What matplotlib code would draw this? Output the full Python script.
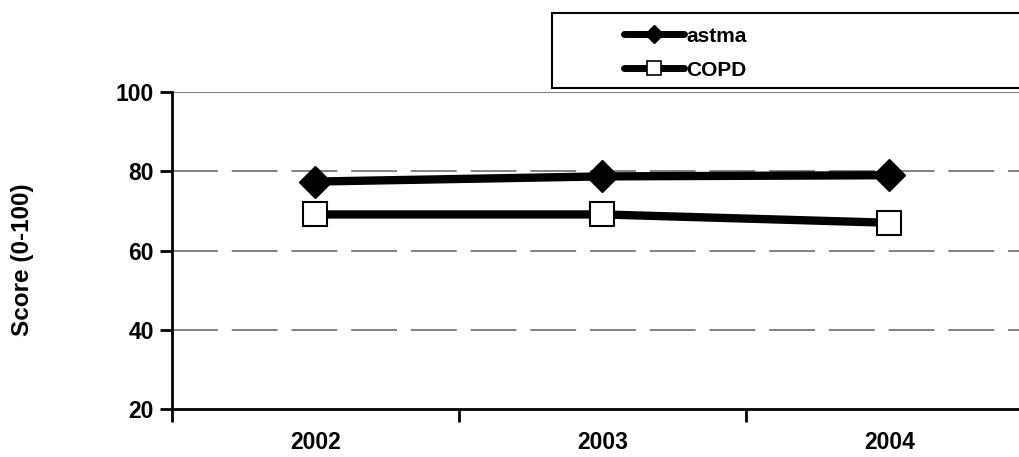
import matplotlib
matplotlib.use("Agg")
import matplotlib.pyplot as plt
from matplotlib.lines import Line2D
from matplotlib.patches import Rectangle

# data
years = ["2002", "2003", "2004"]
astma = [77.4, 78.7, 79.0]
copd = [69.1, 69.1, 67.0]
y_ticks = [20, 40, 60, 80, 100]

plt.rcParams["font.family"] = ["Liberation Sans", "DejaVu Sans"]
plt.rcParams["font.weight"] = "bold"
plt.rcParams["lines.scale_dashes"] = False

W, H = 1020, 457
fig = plt.figure(figsize=(W / 100, H / 100), dpi=100)
# plot area: left 172px, bottom 409px, top 92px, runs past the right edge
ax = fig.add_axes([172 / W, (H - 409) / H, 861 / W, 317 / H])

x = list(range(len(years)))

# gridlines (dash lengths in points: ~46px on, ~14px off)
for v in [40, 60, 80]:
    ax.axhline(v, color="#606060", lw=1.1, dashes=(33, 10), zorder=1)
ax.axhline(100, color="#808080", lw=1.5, zorder=1)

ax.plot(x, astma, color="black", lw=6, marker="D", ms=16,
        markerfacecolor="black", markeredgecolor="black", zorder=3,
        solid_capstyle="butt")
ax.plot(x, copd, color="black", lw=6, marker="s", ms=17,
        markerfacecolor="white", markeredgecolor="black", markeredgewidth=1.5,
        zorder=3, solid_capstyle="butt")

ax.set_xlim(-0.5, len(years) - 0.5)
ax.set_ylim(20, 100)
ax.set_yticks(y_ticks)
ax.set_yticklabels([str(v) for v in y_ticks], fontsize=16.5, fontweight="bold")
ax.set_xticks([i - 0.5 for i in range(len(years) + 1)])
ax.set_xticklabels([])
ax.set_xticks(x, minor=True)
ax.set_xticklabels(years, minor=True, fontsize=16.5, fontweight="bold")
ax.tick_params(axis="x", which="minor", length=0, pad=16)
ax.tick_params(axis="x", which="major", length=9, width=2, direction="out")
ax.tick_params(axis="y", length=9, width=2, direction="out", pad=4)

for side in ["top", "right"]:
    ax.spines[side].set_visible(False)
ax.spines["left"].set_linewidth(2)
ax.spines["bottom"].set_linewidth(2)

fig.text(23 / W, 1 - 260 / H, "Score (0-100)", rotation=90,
         ha="center", va="center", fontsize=17.5, fontweight="bold")

# legend box
fig.patches.append(Rectangle((552 / W, (H - 88) / H), 500 / W, 75 / H,
                             transform=fig.transFigure, facecolor="white",
                             edgecolor="black", lw=1.5, zorder=5))
handles = [
    Line2D([], [], color="black", lw=5, marker="D", ms=9, markerfacecolor="black",
           solid_capstyle="round"),
    Line2D([], [], color="black", lw=5, marker="s", ms=10, markerfacecolor="white",
           markeredgewidth=1.2, solid_capstyle="round"),
]
leg = fig.legend(handles, ["astma", "COPD"], loc="upper left",
                 bbox_to_anchor=(607 / W, 1 - 10 / H), frameon=False,
                 handlelength=2.9, handletextpad=0.1, labelspacing=0.72,
                 prop={"size": 15, "weight": "bold"}, borderpad=0.3)
leg.set_zorder(6)

fig.savefig("out.png", dpi=100)
